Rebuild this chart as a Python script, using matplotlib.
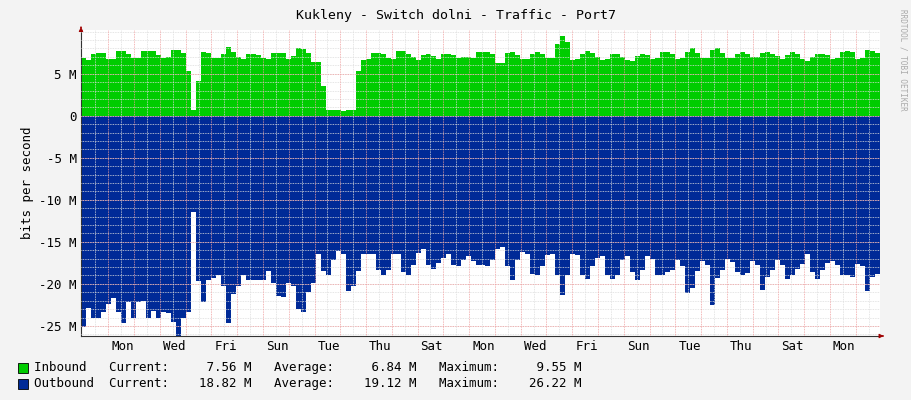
import numpy as np
import matplotlib
matplotlib.use("Agg")
import matplotlib.pyplot as plt

inbound = [6.9,6.6,7.3,7.5,7.5,6.8,6.8,7.65,7.65,7.3,6.9,6.9,7.7,7.7,7.7,7.2,6.9,7.0,7.8,7.8,7.5,
           5.3,0.7,4.1,7.6,7.5,6.9,6.9,7.4,8.2,7.6,7.0,6.8,7.3,7.3,7.2,6.9,6.8,7.5,7.5,7.5,6.8,7.1,
           8.0,7.9,7.5,6.4,6.4,3.5,0.7,0.7,0.7,0.6,0.7,0.7,5.3,6.6,6.8,7.5,7.5,7.4,6.9,6.8,7.7,7.7,
           7.3,7.0,6.6,7.2,7.4,7.1,6.8,7.3,7.4,7.2,6.9,7.0,7.0,6.9,7.6,7.6,
           7.6,7.4,6.3,6.3,7.5,7.6,7.2,6.7,6.8,7.4,7.6,7.4,6.9,6.9,8.5,9.5,8.8,6.6,6.7,7.3,7.7,7.5,
           7.0,6.6,6.7,7.3,7.3,7.0,6.6,6.5,7.1,7.3,7.2,6.8,6.9,7.6,7.6,7.4,6.8,6.9,7.6,8.1,7.5,6.9,
           6.9,7.8,8.1,7.5,6.9,6.9,7.4,7.6,7.4,7.0,7.0,7.5,7.6,7.3,7.1,6.7,7.2,7.6,7.3,6.8,6.5,7.0,
           7.3,7.3,7.2,6.8,6.9,7.6,7.7,7.6,6.8,6.9,7.8,7.7,7.5]
outbound = [-25.1,-22.9,-24.0,-24.0,-23.3,-22.4,-21.7,-23.3,-24.7,-22.1,-24.0,-22.1,-22.0,-24.0,-23.2,
            -24.0,-23.4,-23.5,-24.5,-26.3,-24.0,-23.3,-11.4,-19.7,-22.1,-19.5,-19.3,-19.0,-20.3,-24.7,
            -21.2,-20.3,-19.0,-19.5,-19.5,-19.5,-19.5,-18.5,-19.9,-21.4,-21.6,-19.9,-20.3,-23.0,-23.3,
            -21.0,-19.9,-16.4,-18.5,-19.0,-17.1,-16.1,-16.4,-20.9,-20.3,-18.5,-16.4,-16.4,-16.4,-18.4,
            -18.9,-18.3,-16.4,-16.4,-18.6,-18.9,-17.7,-16.3,-15.9,-17.7,-18.2,-17.5,-16.9,-16.4,-17.8,
            -17.9,-17.2,-16.7,-17.3,-17.8,-17.8,
            -17.9,-17.2,-15.9,-15.6,-17.9,-19.5,-17.2,-16.2,-16.4,-18.8,-18.9,-17.9,-16.6,-16.4,-18.9,
            -21.3,-18.9,-16.4,-16.6,-18.9,-19.4,-17.9,-16.9,-16.7,-19.0,-19.4,-18.9,-17.2,-16.7,-18.6,
            -19.5,-18.4,-16.7,-17.0,-18.9,-19.0,-18.6,-18.4,-17.2,-17.9,-21.1,-20.5,-18.5,-17.3,-17.7,
            -22.5,-19.3,-18.4,-17.0,-17.4,-18.6,-18.9,-18.7,-17.3,-17.8,-20.7,-19.2,-18.4,-17.2,-17.8,
            -19.4,-18.9,-18.2,-17.6,-16.5,-18.6,-19.4,-18.4,-17.5,-17.3,-17.8,-18.9,-18.9,-19.2,-17.6,
            -17.9,-20.8,-19.2,-18.8]
day_labels = ["Mon","Wed","Fri","Sun","Tue","Thu","Sat","Mon","Wed","Fri","Sun","Tue","Thu","Sat","Mon"]
ytick_vals = [5,0,-5,-10,-15,-20,-25]
ytick_labels = ["5 M","0","-5 M","-10 M","-15 M","-20 M","-25 M"]
legend_rows = [("Inbound ", "7.56 M", "6.84 M", "9.55 M", "#00CC00"),
               ("Outbound", "18.82 M", "19.12 M", "26.22 M", "#002A97")]

TOTAL = 31.0
first_midnight = 1.06

mono = "DejaVu Sans Mono"
fig = plt.figure(figsize=(9.11, 4.0), dpi=100, facecolor="#F3F3F3")
ax = fig.add_axes([81/911, 64/400, 799/911, 306/400])
ax.set_facecolor("white")

def edges(v):
    n = len(v)
    x = np.linspace(0, TOTAL, n + 1)
    return x, np.append(v, v[-1])

xi, yi = edges(np.array(inbound))
xo, yo = edges(np.array(outbound))
ax.fill_between(xi, 0, yi, step="post", color="#00CC00", lw=0, zorder=2)
ax.fill_between(xo, 0, yo, step="post", color="#002A97", lw=0, zorder=2)

ax.set_xlim(0, TOTAL)
ax.set_ylim(-26.2, 10.2)

# grid
for m in np.arange(-26, 11, 1):
    ax.axhline(m, color="#DDDDDD", lw=0.6, ls=(0, (1, 1)), zorder=3)
for m in ytick_vals:
    ax.axhline(m, color="#F0A0A0", lw=0.6, ls=(0, (1, 1)), zorder=3)
for d in np.arange(first_midnight - 1 + 0.5, TOTAL, 1.0):
    if d > 0:
        ax.axvline(d, color="#DDDDDD", lw=0.6, ls=(0, (1, 1)), zorder=3)
for d in np.arange(first_midnight, TOTAL, 1.0):
    ax.axvline(d, color="#F0A0A0", lw=0.6, ls=(0, (1, 1)), zorder=3)

for s in ["top", "right"]:
    ax.spines[s].set_visible(False)
for s in ["left", "bottom"]:
    ax.spines[s].set_color("#333333")
    ax.spines[s].set_linewidth(0.8)

ax.set_yticks(ytick_vals)
ax.set_yticklabels(ytick_labels, fontfamily=mono, fontsize=9)
label_pos = [first_midnight + 0.55 + 2 * k for k in range(len(day_labels))]
ax.set_xticks(label_pos)
ax.set_xticklabels(day_labels, fontfamily=mono, fontsize=9)
ax.tick_params(length=0, pad=3)
ax.set_ylabel("bits per second", fontfamily=mono, fontsize=9)

ax.annotate("", xy=(TOTAL + 0.25, -26.2), xytext=(TOTAL, -26.2), annotation_clip=False,
            arrowprops=dict(arrowstyle="-|>", color="#A00000", lw=0.8, mutation_scale=6))
ax.annotate("", xy=(0, 10.9), xytext=(0, 10.2), annotation_clip=False,
            arrowprops=dict(arrowstyle="-|>", color="#A00000", lw=0.8, mutation_scale=6))

fig.text(0.5, 1 - 15/400, "Kukleny - Switch dolni - Traffic - Port7", ha="center", va="center",
         fontfamily=mono, fontsize=9.5)
fig.text(903/911, 1 - 60/400, "RRDTOOL / TOBI OETIKER", rotation=270, ha="center", va="center",
         fontfamily=mono, fontsize=5.5, color="#AAAAAA")

for i, (name, cur, avg, mx, col) in enumerate(legend_rows):
    yy = 1 - (368 + 16 * i) / 400
    fig.patches.append(plt.Rectangle((18/911, yy - 5/400), 10/911, 10/400, transform=fig.transFigure,
                                     facecolor=col, edgecolor="black", lw=0.6))
    txt = f"{name}  Current:  {cur:>9}   Average:  {avg:>9}   Maximum:  {mx:>9}"
    fig.text(34/911, yy, txt, ha="left", va="center", fontfamily=mono, fontsize=9)

fig.savefig("out.png", dpi=100, facecolor=fig.get_facecolor())
